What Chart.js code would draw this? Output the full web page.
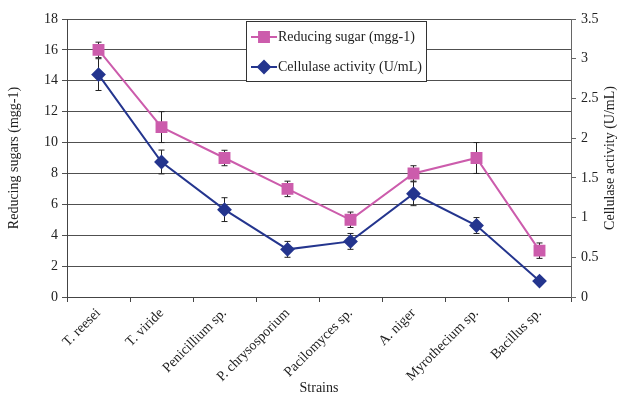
<!DOCTYPE html>
<html lang="en">
<head>
    <meta charset="UTF-8">
    <title>Reducing sugars and cellulase activity by strain</title>
    <script src="https://cdn.jsdelivr.net/npm/chart.js"></script>
    <style>
        body { margin: 0; background: #fff; }
        #chart { display: block; }
    </style>
</head>
<body>
    <canvas id="chart" width="618" height="400"></canvas>

    <script>
        // data
        const strains = ['T. reesei', 'T. viride', 'Penicillium sp.', 'P. chrysosporium',
            'Pacilomyces sp.', 'A. niger', 'Myrothecium sp.', 'Bacillus sp.'];
        const reducingSugar = [16, 11, 9, 7, 5, 8, 9, 3];
        const reducingSugarErr = [0.5, 1, 0.5, 0.5, 0.5, 0.5, 1, 0.5];
        const cellulase = [2.8, 1.7, 1.1, 0.6, 0.7, 1.3, 0.9, 0.2];
        const cellulaseErr = [0.2, 0.15, 0.15, 0.1, 0.1, 0.15, 0.1, 0.03];
        const leftTicks = [0, 2, 4, 6, 8, 10, 12, 14, 16, 18];
        const rightTicks = [0, 0.5, 1, 1.5, 2, 2.5, 3, 3.5];

        const serif = "'Liberation Serif', 'Times New Roman', serif";
        const pink = '#cc5cac';
        const blue = '#24358e';

        // vertical error bars, drawn under the markers
        const errorBars = {
            id: 'errorBars',
            beforeDatasetsDraw(chart) {
                const ctx = chart.ctx;
                chart.data.datasets.forEach((ds, i) => {
                    const meta = chart.getDatasetMeta(i);
                    const scale = chart.scales[ds.yAxisID];
                    ctx.save();
                    ctx.strokeStyle = '#222';
                    ctx.lineWidth = 1;
                    meta.data.forEach((pt, j) => {
                        const v = ds.data[j], e = ds.errors[j];
                        const yTop = scale.getPixelForValue(v + e);
                        const yBot = scale.getPixelForValue(v - e);
                        ctx.beginPath();
                        ctx.moveTo(pt.x, yTop); ctx.lineTo(pt.x, yBot);
                        ctx.moveTo(pt.x - 3, yTop); ctx.lineTo(pt.x + 3, yTop);
                        ctx.moveTo(pt.x - 3, yBot); ctx.lineTo(pt.x + 3, yBot);
                        ctx.stroke();
                    });
                    ctx.restore();
                });
            }
        };

        // boxed legend inside the plot + right axis title read bottom-to-top
        const extras = {
            id: 'extras',
            afterDraw(chart) {
                const ctx = chart.ctx;
                ctx.save();
                // legend box
                const bx = 246, by = 21, bw = 180, bh = 60;
                ctx.fillStyle = '#fff';
                ctx.fillRect(bx, by, bw, bh);
                ctx.strokeStyle = '#333';
                ctx.lineWidth = 1;
                ctx.strokeRect(bx + 0.5, by + 0.5, bw, bh);
                ctx.font = '14px ' + serif;
                ctx.textBaseline = 'middle';
                chart.data.datasets.forEach((ds, i) => {
                    const y = 37 + i * 30;
                    ctx.strokeStyle = ds.borderColor;
                    ctx.lineWidth = 2;
                    ctx.beginPath();
                    ctx.moveTo(bx + 5, y); ctx.lineTo(bx + 31, y);
                    ctx.stroke();
                    Chart.helpers.drawPoint(ctx, {
                        pointStyle: ds.pointStyle, radius: ds.pointRadius, borderWidth: 1
                    }, bx + 18, y);
                    ctx.fillStyle = ds.pointBackgroundColor;
                    ctx.strokeStyle = ds.pointBorderColor;
                    ctx.fill();
                    ctx.fillStyle = '#222';
                    ctx.textAlign = 'left';
                    ctx.fillText(ds.label, bx + 32, y);
                });
                // right axis title
                const r = chart.scales.y1;
                ctx.translate(610, (r.top + r.bottom) / 2);
                ctx.rotate(-Math.PI / 2);
                ctx.textAlign = 'center';
                ctx.fillStyle = '#222';
                ctx.fillText('Cellulase activity (U/mL)', 0, 0);
                ctx.restore();
            }
        };

        new Chart(document.getElementById('chart'), {
            type: 'line',
            data: {
                labels: strains,
                datasets: [{
                    label: 'Reducing sugar (mgg-1)',
                    data: reducingSugar,
                    errors: reducingSugarErr,
                    yAxisID: 'y',
                    borderColor: pink,
                    borderWidth: 2,
                    pointStyle: 'rect',
                    pointRadius: 7,
                    pointBackgroundColor: pink,
                    pointBorderColor: pink,
                    tension: 0
                }, {
                    label: 'Cellulase activity (U/mL)',
                    data: cellulase,
                    errors: cellulaseErr,
                    yAxisID: 'y1',
                    borderColor: blue,
                    borderWidth: 2,
                    pointStyle: 'rectRot',
                    pointRadius: 6,
                    pointBackgroundColor: blue,
                    pointBorderColor: blue,
                    tension: 0
                }]
            },
            options: {
                responsive: false,
                animation: false,
                layout: { padding: { top: 19, left: 0, right: 0, bottom: 0 } },
                plugins: {
                    legend: { display: false },
                    tooltip: { enabled: false }
                },
                scales: {
                    x: {
                        offset: true,
                        afterFit: s => { s.height = 103; },
                        grid: { drawOnChartArea: false, tickLength: 5, color: '#444', offset: true },
                        border: { color: '#444' },
                        ticks: {
                            maxRotation: 45, minRotation: 45, padding: 3,
                            color: '#222', font: { family: serif, size: 14 }
                        },
                        title: {
                            display: true, text: 'Strains', color: '#222',
                            font: { family: serif, size: 14 }, padding: { top: 0, bottom: 3 }
                        }
                    },
                    y: {
                        position: 'left',
                        min: 0, max: 18,
                        afterFit: s => { s.width = 67; },
                        afterBuildTicks: s => { s.ticks = leftTicks.map(v => ({ value: v })); },
                        grid: { color: '#505050', tickLength: 5 },
                        border: { color: '#444' },
                        ticks: { padding: 4, color: '#222', font: { family: serif, size: 14 } },
                        title: {
                            display: true, text: 'Reducing sugars (mgg-1)', color: '#222',
                            font: { family: serif, size: 14 }, padding: { top: 6, bottom: 0 }
                        }
                    },
                    y1: {
                        position: 'right',
                        min: 0, max: 3.5,
                        afterFit: s => { s.width = 47; },
                        afterBuildTicks: s => { s.ticks = rightTicks.map(v => ({ value: v })); },
                        grid: { drawOnChartArea: false, tickLength: 5, color: '#666' },
                        border: { color: '#666' },
                        ticks: {
                            padding: 5, color: '#222', font: { family: serif, size: 14 },
                            callback: v => String(v)
                        }
                    }
                }
            },
            plugins: [errorBars, extras]
        });
    </script>
</body>
</html>
